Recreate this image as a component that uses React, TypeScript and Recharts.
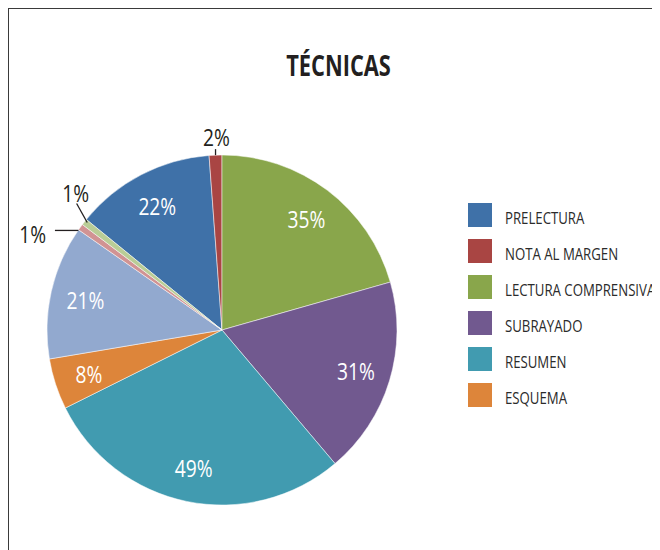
import React from "react"
import { PieChart, Pie, Cell, Legend } from "recharts"

// slices in series order (last three have no legend entry in the original)
const categories = [
  "PRELECTURA",
  "NOTA AL MARGEN",
  "LECTURA COMPRENSIVA",
  "SUBRAYADO",
  "RESUMEN",
  "ESQUEMA",
  "SERIE 7",
  "SERIE 8",
  "SERIE 9",
]
const values = [22, 2, 35, 31, 49, 8, 21, 1, 1]
const colors = [
  "#3F71A8",
  "#A94543",
  "#89A64B",
  "#71598F",
  "#419BB0",
  "#DD853A",
  "#92A9CF",
  "#D19393",
  "#B9CD96",
]
const legendCount = 6

// no condensed face installed, so squeeze a humanist sans horizontally
const FONT = "'Open Sans', 'DejaVu Sans', sans-serif"
const SQUEEZE = 0.8
const RADIAN = Math.PI / 180

// hand placed labels for the thin slices (offsets from the slice's outer edge)
const outsideLabels: Record<number, { line: number[][]; text: number[] }> = {
  1: { line: [[0, 0], [0, -6]], text: [1, -19] },
  7: { line: [[-2, 3.3], [-25.5, 3.3]], text: [-47.8, 6.3] },
  8: { line: [[2.9, 0.5], [-7.7, -18.5]], text: [-8.7, -29.8] },
}

const chartData = categories.map((name, i) => ({ name, value: values[i] }))
const total = values.reduce((a, b) => a + b, 0)
// first slice drawn so that LECTURA COMPRENSIVA starts at 12 o'clock
const startAngle = 90 + ((values[0] + values[1]) / total) * 360

const Squeezed = ({ x, y, fill, size, anchor = "middle", children }: any) => (
  <g transform={`translate(${x}, ${y}) scale(${SQUEEZE}, 1)`}>
    <text
      x={0}
      y={0}
      textAnchor={anchor}
      dominantBaseline="central"
      fill={fill}
      fontSize={size}
      fontFamily={FONT}
    >
      {children}
    </text>
  </g>
)

const renderLabel = (props: any) => {
  const { cx, cy, midAngle, outerRadius, index, value } = props
  const cos = Math.cos(-midAngle * RADIAN)
  const sin = Math.sin(-midAngle * RADIAN)
  const out = outsideLabels[index]
  if (out) {
    const ex = cx + outerRadius * cos
    const ey = cy + outerRadius * sin
    const pts = out.line.map(([dx, dy]) => `${ex + dx},${ey + dy}`).join(" ")
    return (
      <g key={`lbl-${index}`}>
        <polyline points={pts} fill="none" stroke="#231f20" strokeWidth={1.3} />
        <Squeezed x={ex + out.text[0]} y={ey + out.text[1]} fill="#231f20" size={24}>
          {`${value}%`}
        </Squeezed>
      </g>
    )
  }
  const r = outerRadius * 0.8
  return (
    <Squeezed key={`lbl-${index}`} x={cx + r * cos} y={cy + r * sin} fill="#ffffff" size={24}>
      {`${value}%`}
    </Squeezed>
  )
}

const renderLegend = () => (
  <svg width={200} height={220}>
    {categories.slice(0, legendCount).map((name, i) => (
      <g key={name} transform={`translate(0, ${i * 36})`}>
        <rect x={0} y={0} width={24} height={24} fill={colors[i]} />
        <Squeezed x={37} y={14.5} fill="#2b2b2b" size={16.5} anchor="start">
          {name}
        </Squeezed>
      </g>
    ))}
  </svg>
)

export default function App() {
  return (
    <div
      style={{
        position: "relative",
        width: 652,
        height: 542,
        boxSizing: "border-box",
        borderTop: "1px solid #3a3a3a",
        borderLeft: "1px solid #3a3a3a",
        background: "#fff",
      }}
    >
      <div style={{ position: "absolute", left: 0, top: 0 }}>
        <PieChart width={651} height={541} margin={{ top: 0, right: 0, bottom: 0, left: 0 }}>
          <Pie
            data={chartData}
            dataKey="value"
            nameKey="name"
            cx={213}
            cy={321}
            outerRadius={175}
            startAngle={startAngle}
            endAngle={startAngle - 360}
            stroke="#ffffff"
            strokeWidth={0.5}
            labelLine={false}
            label={renderLabel}
            isAnimationActive={false}
          >
            {chartData.map((d, i) => (
              <Cell key={d.name} fill={colors[i]} />
            ))}
          </Pie>
          <Legend
            content={renderLegend}
            wrapperStyle={{ position: "absolute", left: 459, top: 194, width: 200, height: 220 }}
          />
        </PieChart>
      </div>
      <svg
        width={651}
        height={90}
        style={{ position: "absolute", left: 0, top: 0, pointerEvents: "none" }}
      >
        <g transform={`translate(329.5, 67) scale(0.78, 1)`}>
          <text
            x={0}
            y={0}
            textAnchor="middle"
            fill="#231f20"
            fontSize={28}
            fontWeight={700}
            fontFamily={FONT}
          >
            TÉCNICAS
          </text>
        </g>
      </svg>
    </div>
  )
}
